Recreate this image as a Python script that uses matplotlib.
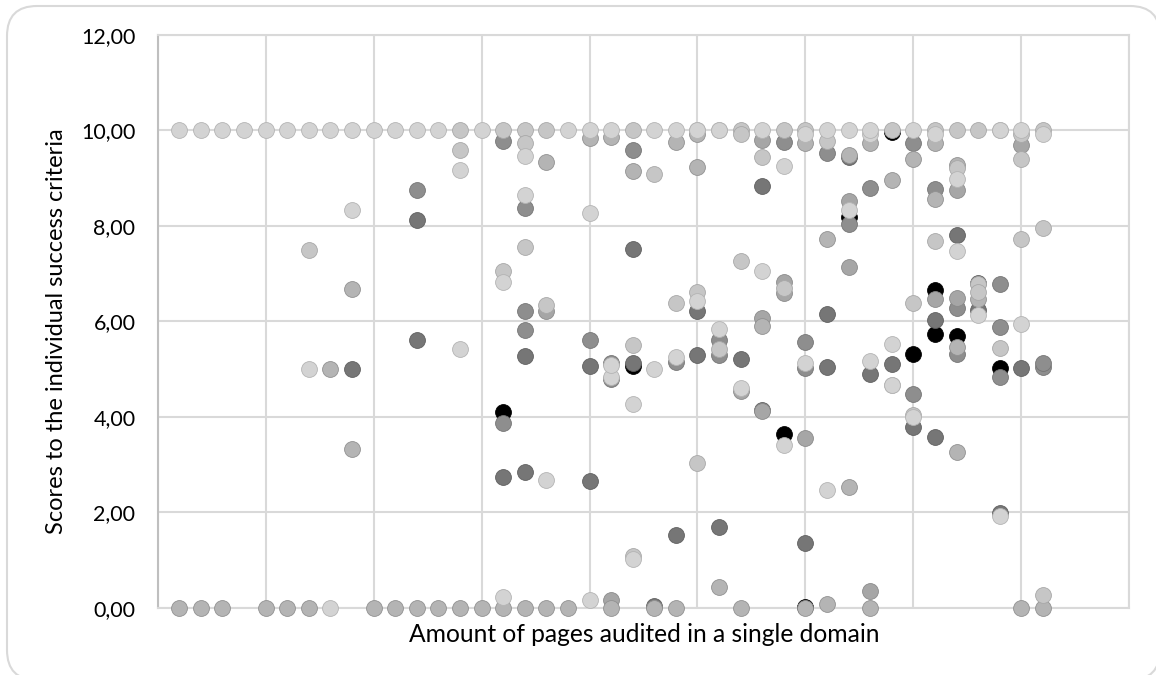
import matplotlib
matplotlib.use("Agg")
from matplotlib import pyplot as plt
from matplotlib.patches import FancyBboxPatch
from matplotlib.transforms import IdentityTransform

plt.rcParams['font.family'] = ['Lato', 'DejaVu Sans']

y_ticks = [0, 2, 4, 6, 8, 10, 12]
y_tick_labels = ["0,00", "2,00", "4,00", "6,00", "8,00", "10,00", "12,00"]
x_ticks = [0, 5, 10, 15, 20, 25, 30, 35, 40, 45]

# darkest first, lighter dots sit on top
x_black = [16, 22, 29, 30, 32, 34, 35, 36, 36, 37, 39]
y_black = [4.10, 5.07, 3.64, 0.03, 8.18, 9.97, 5.32, 6.66, 5.74, 5.69, 5.03]

x_dark = [12, 9, 12, 16, 17, 17, 20, 20, 22, 22, 24, 25, 25, 26, 27, 28, 28, 30, 31, 31, 32, 33, 34, 35, 36, 36, 37, 38, 23, 40, 39, 38]
y_dark = [8.12, 5.00, 5.62, 2.74, 2.85, 5.28, 2.66, 5.07, 7.51, 5.13, 1.53, 6.22, 5.30, 1.70, 5.21, 8.83, 4.15, 1.37, 6.15, 5.05, 9.44, 4.90, 5.11, 3.78, 6.03, 3.57, 7.81, 6.24, 0.04, 5.02, 1.99, 6.80]

x_dim = [16, 16, 17, 20, 21, 21, 24, 26, 29, 30, 30, 31, 32, 33, 35, 35, 36, 37, 37, 39, 39, 39, 41, 41, 12, 17, 17, 26, 22]
y_dim = [9.78, 3.88, 6.22, 5.61, 5.13, 4.80, 5.15, 5.60, 9.76, 5.03, 5.57, 9.52, 8.03, 8.80, 9.73, 4.47, 8.78, 6.27, 5.32, 5.88, 4.84, 6.78, 5.05, 5.13, 8.75, 8.38, 5.82, 5.30, 9.59]

x_mid = [28, 28, 29, 29, 32, 32, 36, 37, 37, 40, 33, 21, 28, 30, 18, 27]
y_mid = [9.80, 6.06, 6.83, 6.60, 8.51, 7.13, 6.47, 8.74, 6.48, 9.69, 0.36, 0.17, 4.13, 3.55, 6.22, 4.55]

x_soft = [1, 2, 3, 5, 6, 7, 10, 11, 12, 13, 14, 15, 16, 17, 18, 19, 21, 23, 24, 27, 30, 33, 40, 41,
          9, 9, 8, 21, 22, 24, 25, 25, 26, 30, 31, 32, 32, 33, 34, 35, 36, 36, 37, 37, 37, 18, 20, 31, 28, 38]
y_soft = [0, 0, 0, 0, 0, 0, 0, 0, 0, 0, 0, 0, 0, 0, 0, 0, 0, 0, 0, 0, 0, 0, 0, 0,
          6.67, 3.33, 5.00, 9.85, 9.15, 9.76, 9.93, 9.23, 0.45, 9.73, 7.72, 9.48, 2.53, 9.73, 8.95, 9.39, 9.73, 8.56, 9.27, 5.46, 3.27, 9.34, 9.83, 0.08, 5.90, 6.46]

x_pale = [14, 16, 17, 17, 18, 22, 27, 27, 29, 30, 34, 37, 38, 7, 14, 25, 27, 25, 40, 29, 26, 38, 41, 16, 17, 18, 22, 23, 28, 22, 35, 36, 36, 37, 38, 39, 40, 40, 41, 41, 31, 35, 24]
y_pale = [10, 10, 10, 9.74, 10, 10, 10, 9.93, 10, 10, 10, 10, 10, 7.50, 9.59, 3.03, 7.27, 6.61, 9.39, 6.69, 5.42, 6.78, 0.27, 7.05, 7.56, 6.34, 5.51, 9.08, 9.45, 1.08, 6.38, 10, 7.69, 9.20, 6.62, 5.45, 7.72, 9.93, 10, 7.95, 9.78, 4.03, 6.39]

x_light = [1, 2, 3, 4, 5, 6, 7, 8, 9, 10, 11, 12, 13, 15, 19, 20, 21, 23, 24, 25, 26, 28, 30, 31, 32, 33, 35, 36, 39, 40, 41,
           8, 9, 7, 14, 14, 16, 17, 20, 20, 18, 22, 22, 23, 24, 25, 25, 26, 27, 28, 29, 30, 31, 32, 33, 33, 34, 34, 35, 37, 37, 38, 39, 39, 40, 16, 17, 21, 21, 26, 29, 34]
y_light = [10, 10, 10, 10, 10, 10, 10, 10, 10, 10, 10, 10, 10, 10, 10, 10, 10, 10, 10, 10, 10, 10, 9.93, 10, 10, 9.93, 10, 9.93, 10, 10, 9.93,
           0, 8.33, 5.00, 5.42, 9.17, 6.82, 8.65, 8.26, 0.17, 2.68, 4.26, 1.03, 5.01, 5.26, 6.43, 10, 5.85, 4.60, 7.06, 3.41, 5.13, 2.48, 8.33, 5.18, 10, 5.53, 4.67, 4.00, 8.97, 7.48, 6.13, 1.93, 10, 5.95, 0.24, 9.46, 4.84, 5.09, 10, 9.25, 4.67]

fig = plt.figure(figsize=(11.56, 6.75), dpi=100)

# outer rounded frame, runs slightly past the picture on the right and bottom
frame = FancyBboxPatch((7, -5), 1153, 674, boxstyle="round,pad=0,rounding_size=30", transform=IdentityTransform(),
                       facecolor="white", edgecolor="#d9d9d9", linewidth=1.5, zorder=-1)
fig.add_artist(frame)

ax = fig.add_axes([157.7 / 1156, 67 / 675, 971.6 / 1156, 573.3 / 675])
ax.patch.set_alpha(0)

series = [
    (x_black, y_black, "#000000", "#000000"),
    (x_dark, y_dark, "#767676", "#5f5f5f"),
    (x_dim, y_dim, "#8e8e8e", "#757575"),
    (x_mid, y_mid, "#a6a6a6", "#8a8a8a"),
    (x_soft, y_soft, "#b4b4b4", "#919191"),
    (x_pale, y_pale, "#c6c6c6", "#a8a8a8"),
    (x_light, y_light, "#d3d3d3", "#b4b4b4"),
]
for i, (xs, ys, c, ec) in enumerate(series):
    ax.scatter(xs, ys, s=130, color=c, edgecolors=ec, linewidths=0.6, zorder=3 + i, clip_on=False)

ax.set_xlim(0, 45)
ax.set_ylim(0, 12)
ax.set_xticks(x_ticks)
ax.set_yticks(y_ticks)
ax.set_yticklabels(y_tick_labels)
ax.tick_params(axis="x", length=0, labelbottom=False)
ax.tick_params(axis="y", length=0, pad=16, labelsize=15.5, labelcolor="black")
ax.grid(True, color="#d9d9d9", linewidth=1.5)
ax.set_axisbelow(True)
for side in ["top", "right", "bottom"]:
    ax.spines[side].set_color("#d9d9d9")
    ax.spines[side].set_linewidth(1.5)
ax.spines["left"].set_color("#bfbfbf")
ax.spines["left"].set_linewidth(1.5)

fig.text(644 / 1156, 1 - 634 / 675, "Amount of pages audited in a single domain", fontsize=17.7, ha="center", va="center")
fig.text(57 / 1156, 1 - 331 / 675, "Scores to the individual success criteria", fontsize=17, rotation=90, ha="center", va="center")

fig.savefig("out.png", dpi=100)
